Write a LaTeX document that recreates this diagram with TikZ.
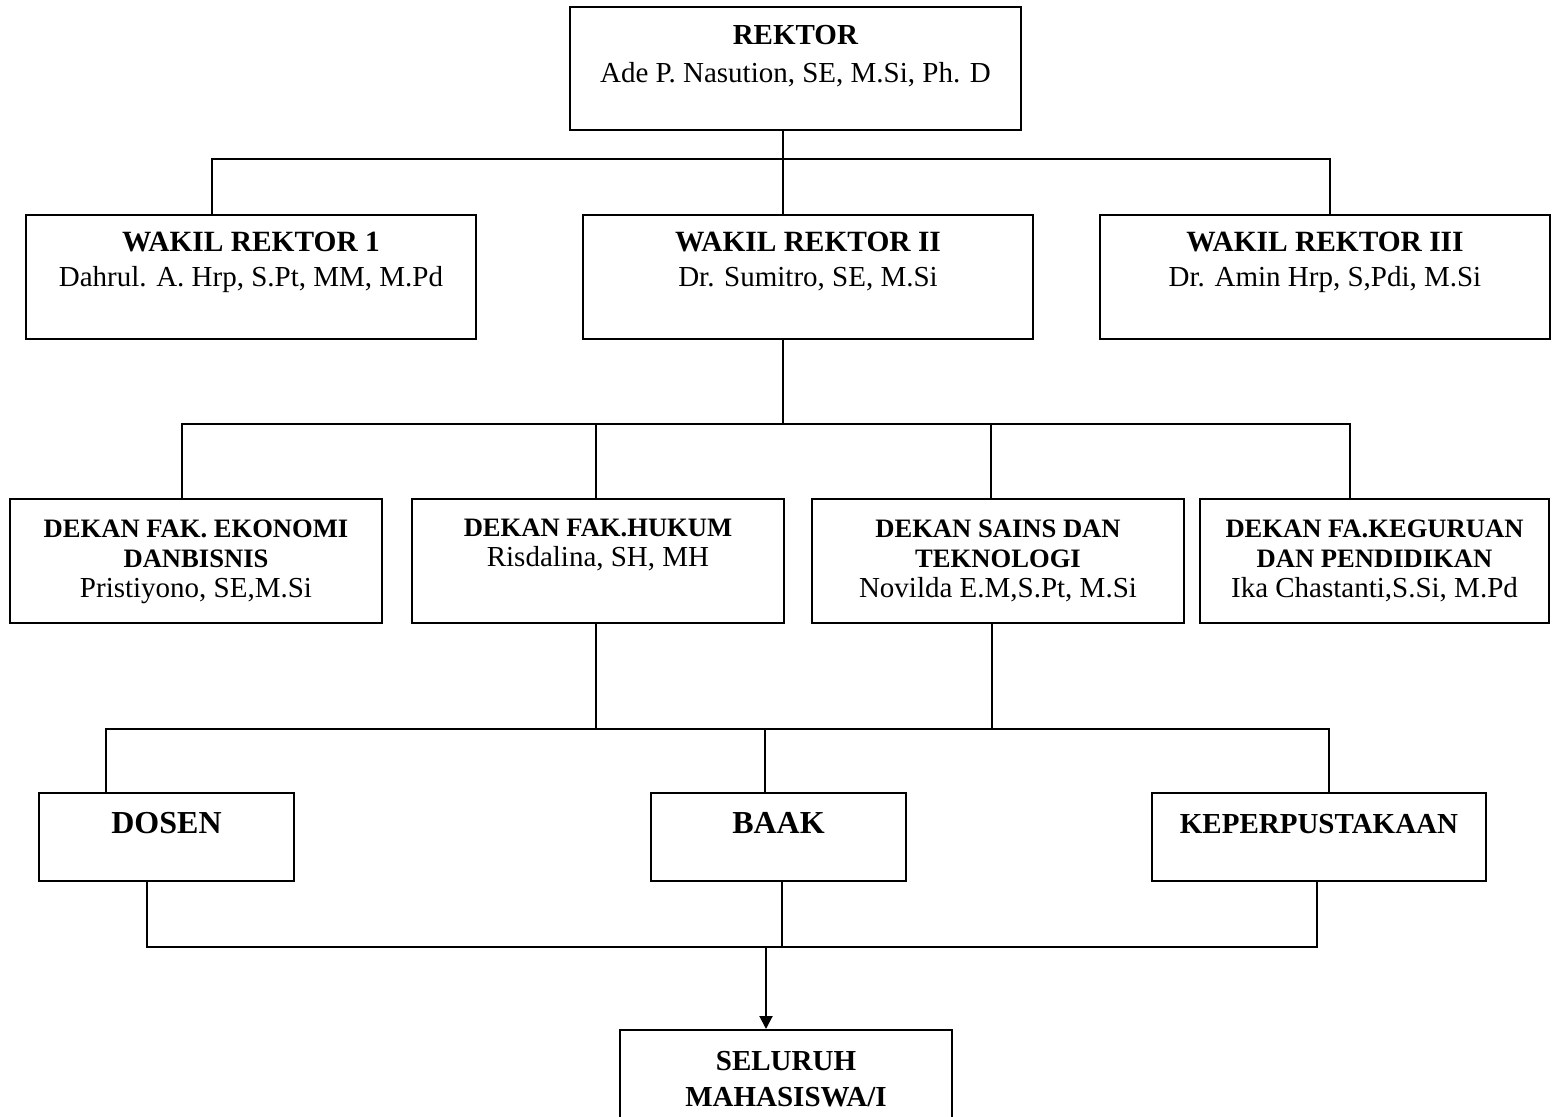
\documentclass[tikz,border=0pt]{standalone}
\usepackage{fontspec}
\setmainfont{Liberation Serif}
\usetikzlibrary{arrows.meta}

\newcommand{\judul}[1]{{\fontsize{14.7}{17.5}\selectfont\bfseries #1}}
\newcommand{\judulfak}[1]{{\fontsize{13.3}{15}\selectfont\bfseries #1}}

\tikzset{
	kotak/.style={draw, rectangle, line width=1pt, inner sep=0pt},
	isi/.style={align=center, inner sep=0pt, anchor=base},
	garis/.style={line width=1pt},
}

\begin{document}
\begin{tikzpicture}[x=0.5pt, y=-0.5pt]
	\useasboundingbox (0,0) rectangle (1553,1117);

	% Kotak jabatan
	\node[kotak, minimum width=225.5pt, minimum height=61.5pt] (rektor) at (795.5,68.5) {};
	\node[kotak, minimum width=225pt, minimum height=62pt] (wr1) at (251,277) {};
	\node[kotak, minimum width=225pt, minimum height=62pt] (wr2) at (808,277) {};
	\node[kotak, minimum width=225pt, minimum height=62pt] (wr3) at (1325,277) {};
	\node[kotak, minimum width=186pt, minimum height=62pt] (dfe) at (196,561) {};
	\node[kotak, minimum width=186pt, minimum height=62pt] (dfh) at (598,561) {};
	\node[kotak, minimum width=186pt, minimum height=62pt] (dst) at (998,561) {};
	\node[kotak, minimum width=174.5pt, minimum height=62pt] (dfk) at (1374.5,561) {};
	\node[kotak, minimum width=127.5pt, minimum height=44pt] (dosen) at (166.5,837) {};
	\node[kotak, minimum width=127.5pt, minimum height=44pt] (baak) at (778.5,837) {};
	\node[kotak, minimum width=167pt, minimum height=44pt] (keper) at (1319,837) {};
	\node[kotak, minimum width=166pt, minimum height=47.5pt] (mhs) at (786,1077.5) {};

	% Teks di dalam kotak (titik = garis dasar baris terakhir)
	\node[isi, font=\fontsize{14.5}{19}\selectfont] (rektor-t) at (795.5,82.3)
		{\textbf{REKTOR}\\Ade P. Nasution, SE, M.Si, Ph. D};
	\node[isi, font=\fontsize{14.5}{17.5}\selectfont] (wr1-t) at (251,287)
		{\judul{WAKIL REKTOR 1}\\Dahrul. A. Hrp, S.Pt, MM, M.Pd};
	\node[isi, font=\fontsize{14.5}{17.5}\selectfont] (wr2-t) at (808,287)
		{\judul{WAKIL REKTOR II}\\Dr. Sumitro, SE, M.Si};
	\node[isi, font=\fontsize{14.5}{17.5}\selectfont] (wr3-t) at (1325,287)
		{\judul{WAKIL REKTOR III}\\Dr. Amin Hrp, S,Pdi, M.Si};
	\node[isi, font=\fontsize{14.5}{15}\selectfont] (dfe-t) at (196,597)
		{\judulfak{DEKAN FAK. EKONOMI}\\\judulfak{DANBISNIS}\\Pristiyono, SE,M.Si};
	\node[isi, font=\fontsize{14.5}{15}\selectfont] (dfh-t) at (598,567)
		{\judulfak{DEKAN FAK.HUKUM}\\Risdalina, SH, MH};
	\node[isi, font=\fontsize{14.5}{15}\selectfont] (dst-t) at (998,597)
		{\judulfak{DEKAN SAINS DAN}\\\judulfak{TEKNOLOGI}\\Novilda E.M,S.Pt, M.Si};
	\node[isi, font=\fontsize{14.5}{15}\selectfont] (dfk-t) at (1374.5,597)
		{\judulfak{DEKAN FA.KEGURUAN}\\\judulfak{DAN PENDIDIKAN}\\Ika Chastanti,S.Si, M.Pd};
	\node[isi, font=\fontsize{16}{17}\selectfont\bfseries] (dosen-t) at (166.5,833.5) {DOSEN};
	\node[isi, font=\fontsize{16}{17}\selectfont\bfseries] (baak-t) at (778.5,833.5) {BAAK};
	\node[isi, font=\fontsize{14.5}{17}\selectfont\bfseries] (keper-t) at (1319,833) {KEPERPUSTAKAAN};
	\node[isi, font=\fontsize{14.5}{18}\selectfont\bfseries] (mhs-t) at (786,1106) {SELURUH\\MAHASISWA/I};

	% Titik simpul garis
	\coordinate (a1) at (212,159);
	\coordinate (a2) at (783,159);
	\coordinate (a3) at (1330,159);
	\coordinate (b1) at (182,424);
	\coordinate (b2) at (783,424);
	\coordinate (b3) at (596,424);
	\coordinate (b4) at (991,424);
	\coordinate (b5) at (1350,424);
	\coordinate (c1) at (106,729);
	\coordinate (c2) at (596,729);
	\coordinate (c3) at (765,729);
	\coordinate (c4) at (992,729);
	\coordinate (c5) at (1329,729);
	\coordinate (d1) at (147,947);
	\coordinate (d2) at (766,947);
	\coordinate (d3) at (782,947);
	\coordinate (d4) at (1317,947);

	% Garis penghubung
	\draw[garis] (rektor.south -| a2) -- (a2 |- wr2.north);
	\draw[garis] (wr1.north -| a1) -- (a1) -- (a3) -- (wr3.north -| a3);
	\draw[garis] (wr2.south -| b2) -- (b2);
	\draw[garis] (dfe.north -| b1) -- (b1) -- (b5) -- (dfk.north -| b5);
	\draw[garis] (b3) -- (dfh.north -| b3);
	\draw[garis] (b4) -- (dst.north -| b4);
	\draw[garis] (dfh.south -| c2) -- (c2);
	\draw[garis] (dst.south -| c4) -- (c4);
	\draw[garis] (dosen.north -| c1) -- (c1) -- (c5) -- (keper.north -| c5);
	\draw[garis] (c3) -- (baak.north -| c3);
	\draw[garis] (dosen.south -| d1) -- (d1) -- (d4) -- (keper.south -| d4);
	\draw[garis] (baak.south -| d3) -- (d3);
	\draw[garis, -{Triangle[length=6.5pt, width=6.5pt]}] (d2) -- (mhs.north -| d2);
\end{tikzpicture}
\end{document}
